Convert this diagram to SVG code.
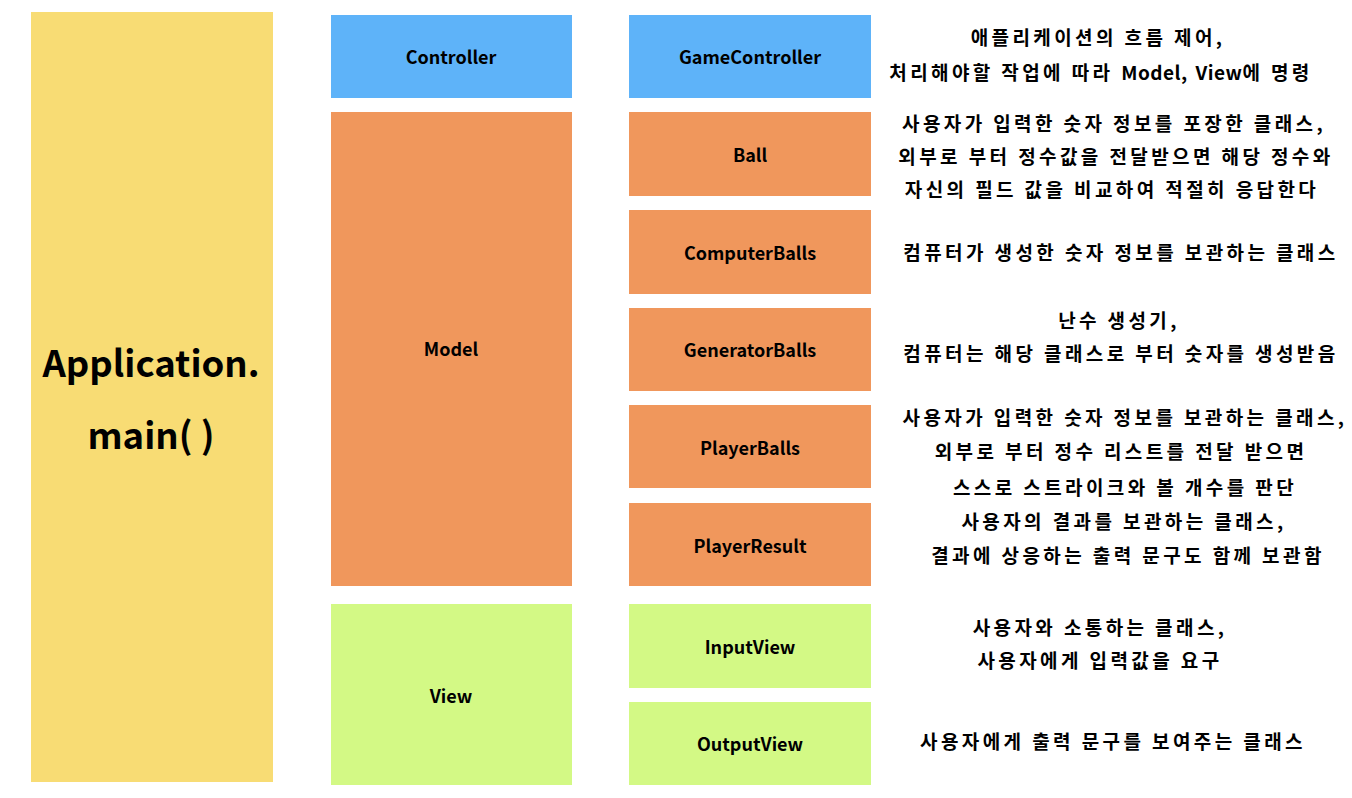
<svg xmlns="http://www.w3.org/2000/svg" width="1352" height="798" viewBox="0 0 1352 798">
<style>
.lbl{font-family:"Noto Sans CJK KR","Noto Sans",sans-serif;font-weight:700;font-size:18px;fill:#000;text-anchor:middle}
.big{font-family:"Noto Sans CJK KR","Noto Sans",sans-serif;font-weight:700;font-size:36.5px;fill:#000;text-anchor:middle}
.desc{font-family:"Noto Sans CJK KR","Noto Sans",sans-serif;font-weight:700;font-size:19px;fill:#000;text-anchor:middle;letter-spacing:3.4px}
.lat{letter-spacing:0.5px}
.y{fill:#F8DC74}.b{fill:#5EB3F9}.o{fill:#F0975C}.g{fill:#D3F985}
</style>
<rect width="1352" height="798" fill="#fff"/>
<g id="app"><rect class="y" x="31" y="12" width="242" height="770"/>
<text class="big" x="151" y="377">Application.</text>
<text class="big" x="151" y="449">main( )</text></g>
<g id="controller"><rect class="b" x="331" y="15" width="241" height="83"/><text class="lbl" x="451" y="64">Controller</text></g>
<g id="model"><rect class="o" x="331" y="112" width="241" height="474"/><text class="lbl" x="451" y="356">Model</text></g>
<g id="view"><rect class="g" x="331" y="604" width="241" height="181"/><text class="lbl" x="451" y="703">View</text></g>
<g id="gamecontroller"><rect class="b" x="629" y="15" width="242" height="83"/><text class="lbl" x="750" y="64">GameController</text></g>
<g id="ball"><rect class="o" x="629" y="112" width="242" height="84"/><text class="lbl" x="750" y="162">Ball</text></g>
<g id="computerballs"><rect class="o" x="629" y="210" width="242" height="84"/><text class="lbl" x="750" y="260">ComputerBalls</text></g>
<g id="generatorballs"><rect class="o" x="629" y="308" width="242" height="83"/><text class="lbl" x="750" y="357">GeneratorBalls</text></g>
<g id="playerballs"><rect class="o" x="629" y="405" width="242" height="83"/><text class="lbl" x="750" y="455">PlayerBalls</text></g>
<g id="playerresult"><rect class="o" x="629" y="503" width="242" height="83"/><text class="lbl" x="750" y="553">PlayerResult</text></g>
<g id="inputview"><rect class="g" x="629" y="604" width="242" height="84"/><text class="lbl" x="750" y="654">InputView</text></g>
<g id="outputview"><rect class="g" x="629" y="702" width="242" height="83"/><text class="lbl" x="750" y="751">OutputView</text></g>
<g id="descriptions">
<text class="desc" x="1098" y="45">애플리케이션의 흐름 제어,</text>
<text class="desc" x="1101" y="80">처리해야할 작업에 따라 <tspan class="lat">Model,</tspan> <tspan class="lat">View</tspan>에 명령</text>
<text class="desc" x="1114" y="131">사용자가 입력한 숫자 정보를 포장한 클래스,</text>
<text class="desc" x="1116" y="164">외부로 부터 정수값을 전달받으면 해당 정수와</text>
<text class="desc" x="1112" y="197">자신의 필드 값을 비교하여 적절히 응답한다</text>
<text class="desc" x="1121" y="260">컴퓨터가 생성한 숫자 정보를 보관하는 클래스</text>
<text class="desc" x="1119" y="328">난수 생성기,</text>
<text class="desc" x="1121" y="361">컴퓨터는 해당 클래스로 부터 숫자를 생성받음</text>
<text class="desc" x="1125" y="425">사용자가 입력한 숫자 정보를 보관하는 클래스,</text>
<text class="desc" x="1121" y="459">외부로 부터 정수 리스트를 전달 받으면</text>
<text class="desc" x="1125" y="495">스스로 스트라이크와 볼 개수를 판단</text>
<text class="desc" x="1124" y="529">사용자의 결과를 보관하는 클래스,</text>
<text class="desc" x="1128" y="563">결과에 상응하는 출력 문구도 함께 보관함</text>
<text class="desc" x="1100" y="635">사용자와 소통하는 클래스,</text>
<text class="desc" x="1100" y="668">사용자에게 입력값을 요구</text>
<text class="desc" x="1113" y="749">사용자에게 출력 문구를 보여주는 클래스</text>
</g>
</svg>
